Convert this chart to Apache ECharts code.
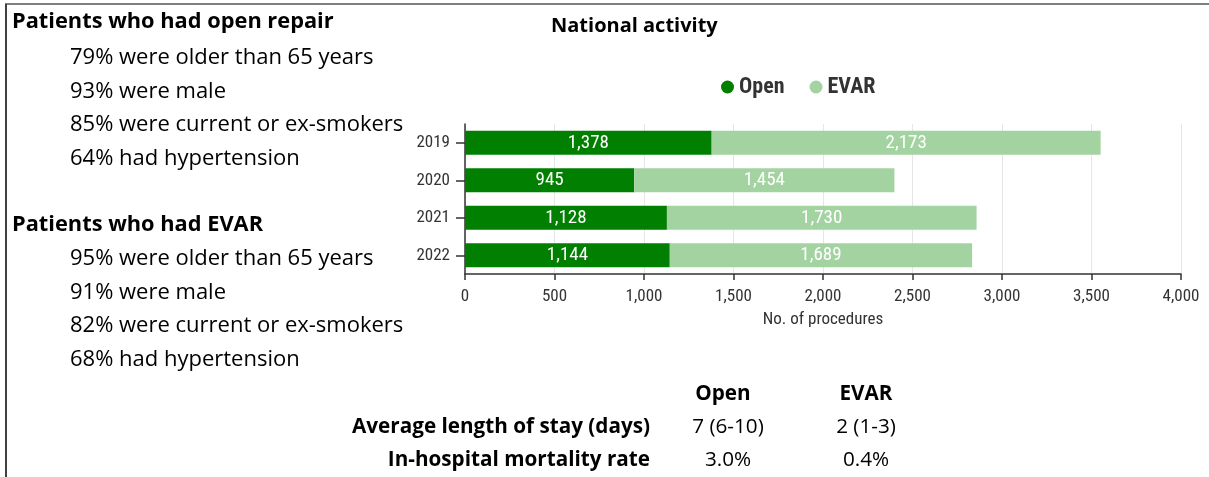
<!DOCTYPE html>
<html>
<head>
<meta charset="utf-8">
<script src="https://cdn.jsdelivr.net/npm/echarts@6/dist/echarts.min.js"></script>
<style>
  html, body { margin: 0; padding: 0; background: #fff; }
  #chart { width: 1209px; height: 477px; }
</style>
</head>
<body>
<div id="chart"></div>
<script>
// chart data
const years = ['2019', '2020', '2021', '2022']
const openValues = [1378, 945, 1128, 1144]
const evarValues = [2173, 1454, 1730, 1689]
const seriesNames = ['Open', 'EVAR']

// side text
const openRepairFacts = ['79% were older than 65 years', '93% were male', '85% were current or ex-smokers', '64% had hypertension']
const evarFacts = ['95% were older than 65 years', '91% were male', '82% were current or ex-smokers', '68% had hypertension']
const tableHeader = ['Open', 'EVAR']
const tableRows = [
  ['Average length of stay (days)', '7 (6-10)', '2 (1-3)'],
  ['In-hospital mortality rate', '3.0%', '0.4%'],
]

const sideFont = '"Open Sans", Lato, sans-serif'
const chartFont = '"Roboto Condensed", "Liberation Sans Narrow", "DejaVu Sans Condensed", Roboto, sans-serif'

const chart = echarts.init(document.getElementById('chart'))

const txt = (text, x, y, opts = {}) => ({
  type: 'text',
  style: {
    text,
    x,
    y,
    fill: '#000',
    font: `${opts.bold ? 'bold ' : ''}${opts.size || 22}px ${opts.family || sideFont}`,
    textAlign: opts.align || 'left',
    textVerticalAlign: 'middle',
  },
})

const graphics = [
  // frame
  { type: 'line', shape: { x1: 5, y1: 4, x2: 1209, y2: 4 }, style: { stroke: '#7f7f7f', lineWidth: 2 } },
  { type: 'line', shape: { x1: 6, y1: 4, x2: 6, y2: 477 }, style: { stroke: '#404040', lineWidth: 2 } },
  txt('Patients who had open repair', 12, 22, { bold: true, size: 21.8 }),
  ...openRepairFacts.map((t, i) => txt(t, 70, 58 + i * 33.5)),
  txt('Patients who had EVAR', 12, 225, { bold: true, size: 21.8 }),
  ...evarFacts.map((t, i) => txt(t, 70, 259 + i * 33.5)),
  txt(tableHeader[0], 723, 394, { bold: true, align: 'center', size: 20.7 }),
  txt(tableHeader[1], 866, 394, { bold: true, align: 'center', size: 20.7 }),
  ...tableRows.flatMap((row, i) => [
    txt(row[0], 650, 427 + i * 33.5, { bold: true, align: 'right', size: 20.7 }),
    txt(row[1], 728, 427 + i * 33.5, { align: 'center', size: 20.7 }),
    txt(row[2], 866, 427 + i * 33.5, { align: 'center', size: 20.7 }),
  ]),
]

chart.setOption({
  backgroundColor: '#fff',
  animation: false,
  textStyle: { fontFamily: chartFont },
  title: {
    text: 'National activity',
    left: 546,
    top: 11,
    textStyle: { fontFamily: sideFont, fontSize: 20, fontWeight: 'bold', color: '#000' },
  },
  legend: {
    data: seriesNames,
    left: 716,
    top: 71,
    icon: 'circle',
    itemWidth: 13,
    itemHeight: 13,
    itemGap: 25,
    textStyle: { fontFamily: chartFont, fontSize: 22, fontWeight: 'bold', color: '#333' },
  },
  grid: { left: 465, right: 28, top: 124, bottom: 203, containLabel: false },
  xAxis: {
    type: 'value',
    min: 0,
    max: 4000,
    interval: 500,
    name: 'No. of procedures',
    nameLocation: 'middle',
    nameGap: 37,
    nameTextStyle: { fontSize: 17, color: '#333' },
    axisLine: { show: true, lineStyle: { color: '#333', width: 1.5 } },
    axisTick: { show: true, length: 6, lineStyle: { color: '#333', width: 1.5 } },
    axisLabel: {
      fontSize: 17,
      color: '#333',
      margin: 14,
      formatter: v => v.toLocaleString('en-US'),
    },
    splitLine: { show: true, lineStyle: { color: '#e6e6e6' } },
  },
  yAxis: {
    type: 'category',
    data: years,
    inverse: true,
    axisLine: { show: true, lineStyle: { color: '#333', width: 1.5 } },
    axisTick: { show: true, alignWithLabel: true, length: 9, lineStyle: { color: '#333', width: 1.5 } },
    axisLabel: { fontSize: 17, color: '#333', margin: 15 },
  },
  series: [
    { name: 'Open', data: openValues, color: '#007f00' },
    { name: 'EVAR', data: evarValues, color: '#a4d3a2' },
  ].map(s => ({
    ...s,
    type: 'bar',
    stack: 'total',
    barCategoryGap: '36%',
    label: {
      show: true,
      position: 'inside',
      color: '#fff',
      fontSize: 19,
      formatter: p => p.value.toLocaleString('en-US'),
    },
  })),
  graphic: graphics,
})
</script>
</body>
</html>
